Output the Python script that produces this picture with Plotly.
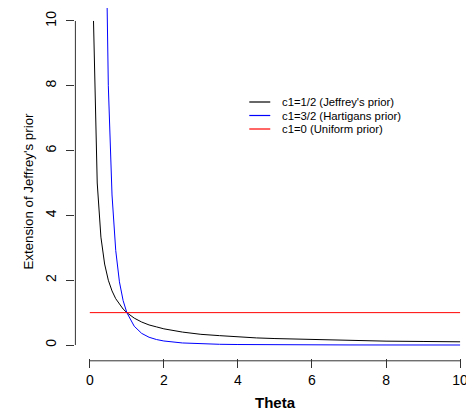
import plotly.graph_objects as go

# Values
theta = [0.1, 0.2, 0.3, 0.4, 0.5, 0.6, 0.7, 0.8, 0.9, 1.0,
         1.2, 1.4, 1.6, 1.8, 2.0, 2.5, 3.0, 3.5, 4.0, 4.5,
         5.0, 6.0, 7.0, 8.0, 9.0, 10.0]
jeffrey = [10.0, 5.0, 3.33, 2.5, 2.0, 1.67, 1.43, 1.25, 1.11, 1.0,
           0.83, 0.71, 0.62, 0.56, 0.5, 0.4, 0.33, 0.29, 0.25, 0.22,
           0.2, 0.17, 0.14, 0.12, 0.11, 0.1]
hartigan = [1000.0, 125.0, 37.0, 15.6, 8.0, 4.63, 2.92, 1.95, 1.37, 1.0,
            0.58, 0.36, 0.24, 0.17, 0.125, 0.064, 0.037, 0.023, 0.016, 0.011,
            0.008, 0.005, 0.003, 0.002, 0.001, 0.001]
uniform_x = [0.0, 10.0]
uniform_y = [1.0, 1.0]

series_names = ["c1=1/2 (Jeffrey's prior)", "c1=3/2 (Hartigans prior)",
                "c1=0 (Uniform prior)"]
series_colors = ["black", "blue", "red"]

x_ticks = [0, 2, 4, 6, 8, 10]
y_ticks = [0, 2, 4, 6, 8, 10]

font = "Liberation Sans, Arial, sans-serif"
W, H = 466, 411
L, R, T, B = 74.5, 0, 8, 53

fig = go.Figure()
for xs, ys, name, col in zip([theta, theta, uniform_x], [jeffrey, hartigan, uniform_y],
                             series_names, series_colors):
    fig.add_trace(go.Scatter(x=xs, y=ys, mode="lines", name=name,
                             line=dict(color=col, width=1), showlegend=False))

# R-style axis lines that only span the tick range
fig.add_shape(type="line", xref="x", yref="paper", x0=0, x1=10, y0=-0.008, y1=-0.008,
              line=dict(color="#333333", width=1))
fig.add_shape(type="line", xref="paper", yref="y", x0=0.001, x1=0.001, y0=0, y1=10,
              line=dict(color="#333333", width=1))

# hand-placed legend like R's legend(bty="n")
pw, ph = W - L - R, H - T - B
for i, (name, col) in enumerate(zip(series_names, series_colors)):
    yp = 1 - (102 + 13.5 * i - T) / ph
    fig.add_shape(type="line", xref="paper", yref="paper",
                  x0=(249 - L) / pw, x1=(270 - L) / pw, y0=yp, y1=yp,
                  line=dict(color=col, width=1.2))
    fig.add_annotation(text=name, xref="paper", yref="paper",
                       x=(280 - L) / pw, y=yp, xanchor="left", yanchor="middle",
                       showarrow=False, font=dict(size=11.3))

# axis titles
fig.add_annotation(text="<b>Theta</b>", xref="paper", yref="paper",
                   x=(275 - L) / pw, y=1 - (402 - T) / ph, xanchor="center",
                   yanchor="middle", showarrow=False, font=dict(size=15))
fig.add_annotation(text="Extension of Jeffrey's prior", xref="paper", yref="paper",
                   x=(27 - L) / pw, y=1 - (191 - T) / ph, xanchor="center",
                   yanchor="middle", textangle=-90, showarrow=False,
                   font=dict(size=13.3))

fig.update_layout(
    width=W, height=H,
    margin=dict(l=L, r=R, t=T, b=B),
    paper_bgcolor="white", plot_bgcolor="white",
    font=dict(family=font, size=14, color="black"),
    showlegend=False,
    xaxis=dict(range=[-0.4, 10.16], tickvals=x_ticks, showgrid=False,
               zeroline=False, showline=False, ticks="outside", ticklen=9,
               tickcolor="#333333", tickfont=dict(size=14), automargin=False,
               ticklabeloverflow="allow"),
    yaxis=dict(range=[-0.4, 10.4], tickvals=y_ticks, showgrid=False,
               zeroline=False, showline=False, ticks="outside", ticklen=8,
               tickcolor="#333333", tickangle=-90, tickfont=dict(size=14),
               automargin=False, ticklabelstandoff=4),
)

fig.write_html("out.html", config={"displayModeBar": False},
               post_script="document.body.style.margin = '0';")
